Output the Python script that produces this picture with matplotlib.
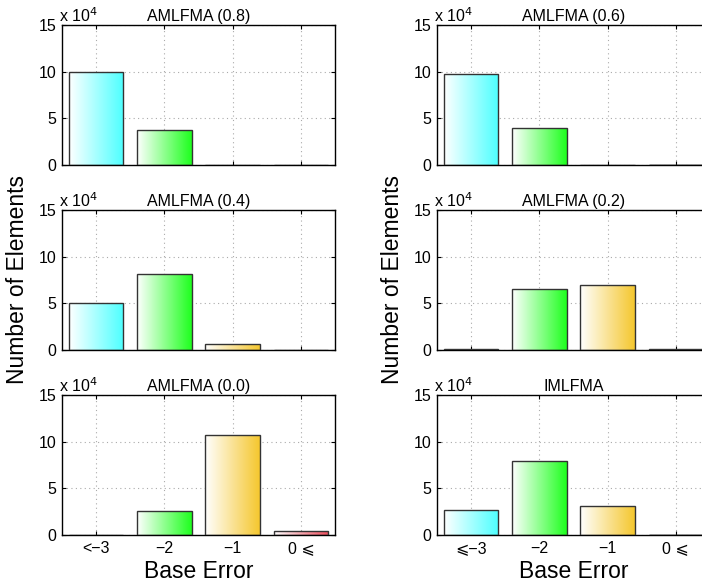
import numpy as np
import matplotlib
matplotlib.use("Agg")
import matplotlib.pyplot as plt
from matplotlib.colors import LinearSegmentedColormap
from matplotlib.patches import Rectangle
from matplotlib.ticker import FuncFormatter

plt.rcParams['font.family'] = ['Liberation Sans', 'DejaVu Sans']

titles = ["AMLFMA (0.8)", "AMLFMA (0.6)", "AMLFMA (0.4)", "AMLFMA (0.2)", "AMLFMA (0.0)", "IMLFMA"]
amlfma_08 = [100000, 37000, 500, 0]
amlfma_06 = [98000, 39500, 500, 0]
amlfma_04 = [50000, 81000, 6500, 500]
amlfma_02 = [1000, 65000, 69500, 1500]
amlfma_00 = [0, 26000, 107500, 4500]
imlfma = [26500, 79500, 31000, 200]
series = [amlfma_08, amlfma_06, amlfma_04, amlfma_02, amlfma_00, imlfma]
xlabels_left = ["<\u22123", "\u22122", "\u22121", "0 \u2a7d"]
xlabels_right = ["\u2a7d\u22123", "\u22122", "\u22121", "0 \u2a7d"]
yticks = [0, 50000, 100000, 150000]
bar_colors = [(0.30, 1.0, 1.0), (0.12, 1.0, 0.12), (0.96, 0.78, 0.18), (0.93, 0.30, 0.36)]

fig = plt.figure(figsize=(7.02, 5.85), dpi=100)
W, H = 702, 585
left_x = [62, 437]
tops = [25, 210, 395]
aw, ah = 273, 140

grad = np.linspace(0, 1, 256).reshape(1, -1)

for i, (title, vals) in enumerate(zip(titles, series)):
    r, c = divmod(i, 2)
    ax = fig.add_axes([left_x[c] / W, 1 - (tops[r] + ah) / H, aw / W, ah / H])
    ax.set_xlim(0.5, 4.5)
    ax.set_ylim(0, 150000)
    ax.set_xticks([1, 2, 3, 4])
    ax.set_yticks(yticks)
    ax.yaxis.set_major_formatter(FuncFormatter(lambda v, p: f"{v/1e4:g}"))
    ax.grid(True, linestyle=(0, (1, 3)), color='#aaaaaa', linewidth=0.8, zorder=0)
    ax.set_axisbelow(True)
    ax.tick_params(direction='in', length=3, top=True, right=True, labelsize=11.5, pad=4)
    for sp in ax.spines.values():
        sp.set_linewidth(1.0)
    for k, v in enumerate(vals):
        x0 = k + 1 - 0.4
        cmap = LinearSegmentedColormap.from_list("g", [(1, 1, 1), bar_colors[k]])
        rect = Rectangle((x0, 0), 0.8, v, facecolor='none', edgecolor='#333333', linewidth=1.0, zorder=3)
        ax.add_patch(rect)
        if v > 0:
            im = ax.imshow(grad, cmap=cmap, extent=[x0, x0 + 0.8, 0, v], aspect='auto',
                           interpolation='bilinear', zorder=2)
            im.set_clip_path(rect)
    ax.set_xlim(0.5, 4.5)
    ax.set_ylim(0, 150000)
    if r == 2:
        ax.set_xticklabels(xlabels_left if c == 0 else xlabels_right, fontsize=11.5)
        ax.set_xlabel("Base Error", fontsize=16.5, labelpad=3)
    else:
        ax.set_xticklabels([])
    if r == 1:
        ax.set_ylabel("Number of Elements", fontsize=16.5, labelpad=7)
    ax.set_title(title, fontsize=11.5, pad=3)
    ax.text(-0.01, 1.0, "x 10$^{4}$", transform=ax.transAxes, fontsize=11.5, ha='left', va='bottom')

fig.savefig("out.png", dpi=100)
